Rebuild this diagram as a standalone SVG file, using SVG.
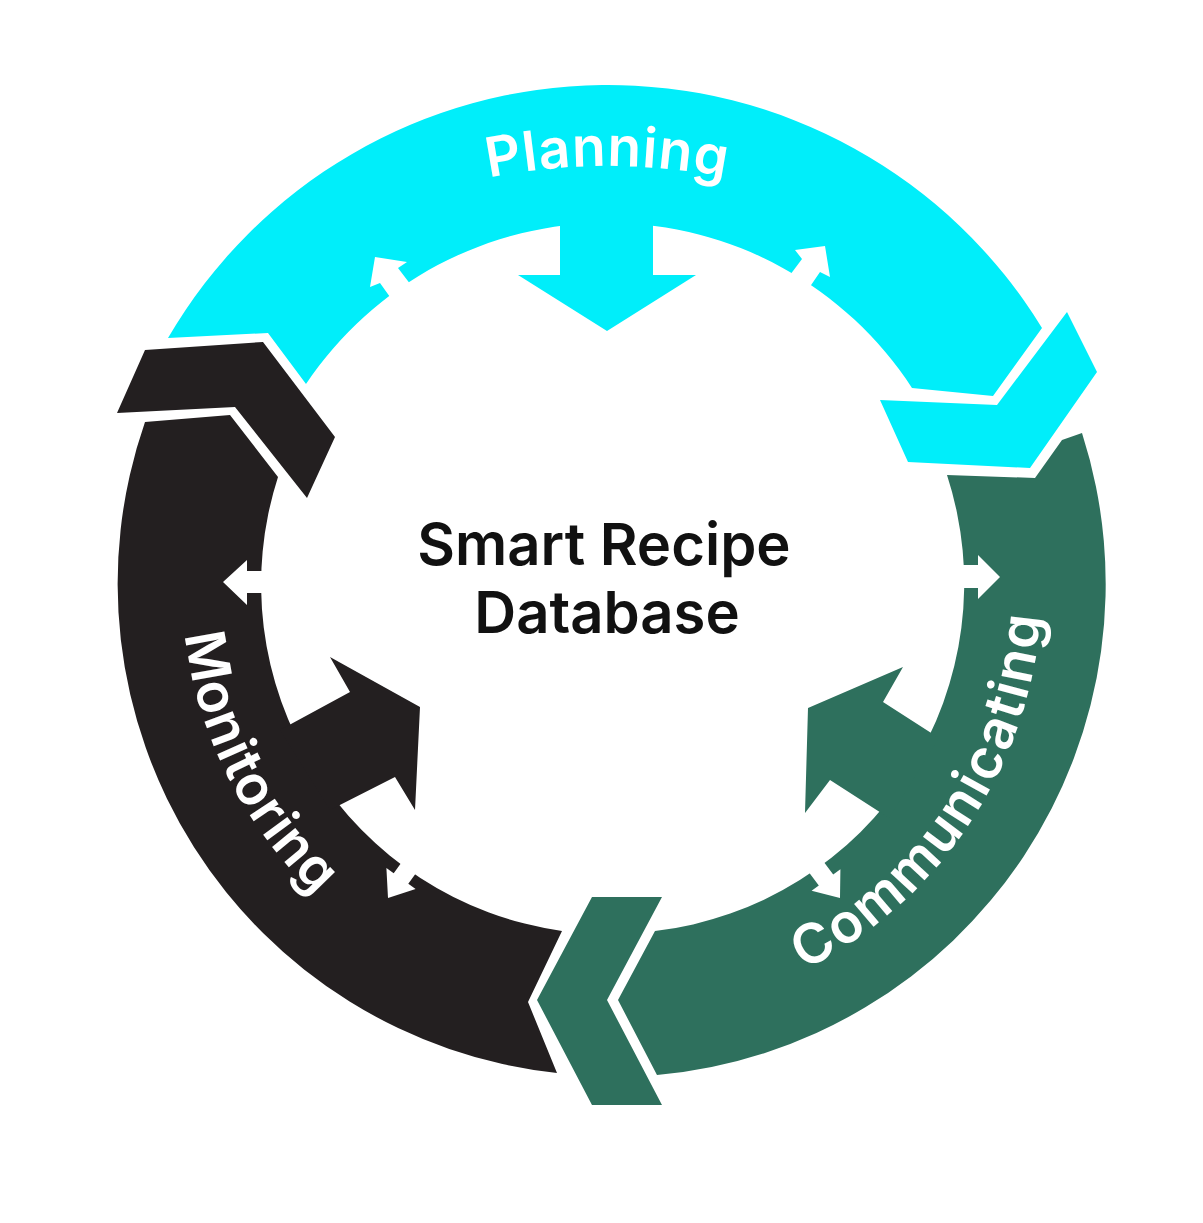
<svg xmlns="http://www.w3.org/2000/svg" width="1203" height="1223" viewBox="0 0 1203 1223">
<style>
.cy{fill:#00EEFA}
.bk{fill:#231F20}
.gn{fill:#2E705D}
.wh{fill:#FFFFFF}
.lbl{font-family:Inter,"Open Sans","Liberation Sans",sans-serif;font-weight:600;fill:#FFFFFF;font-size:55px}
.ctr{font-family:Inter,"Open Sans","Liberation Sans",sans-serif;font-weight:600;fill:#111111;font-size:58px}
</style>
<defs>
<path id="pPlan" d="M 7 766 A 600 600 0 0 1 1207 766"/>
<path id="pMon" d="M 207.8 437.6 A 428 428 0 0 0 535.7 1005.5"/>
<path id="pCom" d="M 685 1009.4 A 432 432 0 0 0 1016 436.2"/>
</defs>
<rect width="1203" height="1223" fill="#FFFFFF"/>
<g id="planning">
<path class="cy" d="M 168 338 A 509 509 0 0 1 1042 328 L 993 396 L 912 388 A 363 363 0 0 0 306 384 L 268 333 Z"/>
<polygon class="cy" points="560,215 560,275 518,275 607,331 696,275 653,275 653,215"/>
<text class="lbl" textLength="238" lengthAdjust="spacing"><textPath href="#pPlan" startOffset="50%" text-anchor="middle">Planning</textPath></text>
</g>
<g id="communicating">
<path class="gn" d="M 947 475 L 1035 478 L 1062 440 L 1082 433 A 493 493 0 0 1 657 1075 L 618 1000 L 655 931 A 350 350 0 0 0 947 475 Z"/>
<polygon class="gn" points="939,738 883,702 903,667 808,708 805,813 830,780 889,818"/>
<text class="lbl" textLength="445" lengthAdjust="spacing"><textPath href="#pCom" startOffset="46.2%" text-anchor="middle">Communicating</textPath></text>
</g>
<g id="monitoring">
<path class="bk" d="M 557 1073 L 528 1002 L 562 931 A 350 350 0 0 1 278 477 L 230 415 L 145 422 A 492 492 0 0 0 557 1073 Z"/>
<polygon class="bk" points="280,730 350,692 330,657 420,707 415,810 395,777 330,810"/>
<text class="lbl" textLength="298" lengthAdjust="spacing"><textPath href="#pMon" startOffset="46.7%" text-anchor="middle">Monitoring</textPath></text>
</g>
<g id="center">
<text class="ctr" x="604" y="565" text-anchor="middle">Smart Recipe</text>
<text class="ctr" x="607" y="633" text-anchor="middle">Database</text>
</g>
<g id="connectors">
<polygon class="cy" points="1067,312 1097,372 1030,468 908,462 880,400 997,405"/>
<polygon class="gn" points="592,897 662,897 607,1000 662,1105 592,1105 537,1000"/>
<polygon class="bk" points="145,350 263,342 335,437 307,498 235,407 117,413"/>
<polygon class="wh" points="395,304 380,283 370,287 375,257 407,262 398,268 414,289"/>
<polygon class="wh" points="787,279 802,259 795,250 825,246 830,277 820,272 807,291"/>
<polygon class="wh" points="275,571 247,571 247,560 223,582 247,605 247,593 275,593"/>
<polygon class="wh" points="945,565 978,565 978,555 1000,577 978,599 978,588 945,588"/>
<polygon class="wh" points="405.5,857 393.7,873.2 386.4,867.9 388,898 415.6,889.1 408.3,883.8 420.1,867.6"/>
<polygon class="wh" points="821.2,858.6 833.2,874.6 840.4,869.2 840,898 811.6,890.8 818.8,885.4 806.8,869.4"/>
</g>
</svg>
